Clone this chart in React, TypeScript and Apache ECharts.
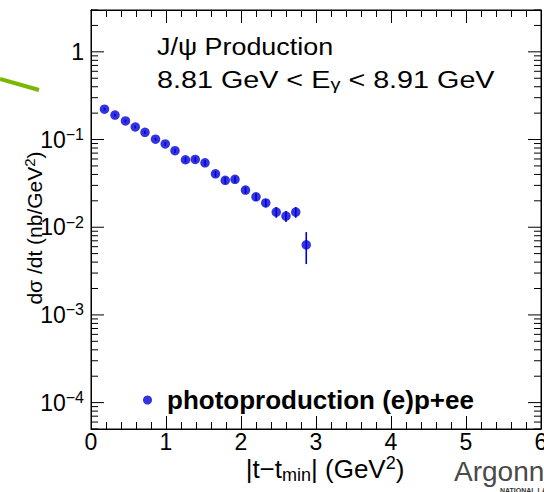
import React, { useEffect, useRef } from "react";
import * as echarts from "echarts";

// |t - tmin| bin centres (GeV^2)
const tValues = [0.18, 0.32, 0.46, 0.59, 0.72, 0.86, 0.99, 1.12, 1.26, 1.39, 1.52, 1.66, 1.79, 1.92, 2.06, 2.2, 2.33, 2.47, 2.6, 2.73, 2.87];
// dσ/dt (nb/GeV^2)
const dsdt = [0.222, 0.19, 0.163, 0.139, 0.121, 0.101, 0.0892, 0.0747, 0.0588, 0.0593, 0.0543, 0.0406, 0.0343, 0.0352, 0.0265, 0.0222, 0.0189, 0.0149, 0.0134, 0.0149, 0.0063];
// statistical errors
const dsdtErr = [0.008, 0.007, 0.006, 0.005, 0.005, 0.004, 0.004, 0.004, 0.004, 0.004, 0.004, 0.003, 0.003, 0.003, 0.0025, 0.0022, 0.002, 0.0021, 0.0019, 0.0021, 0.0025];

const seriesName = "photoproduction (e)p+ee";
const xTickLabels = ["0", "1", "2", "3", "4", "5", "6"];
const yMajorTicks = [1e-4, 1e-3, 1e-2, 1e-1, 1];
const yDecades = [1e-5, 1e-4, 1e-3, 1e-2, 1e-1, 1];
const yMinorMultipliers = [2, 3, 4, 5, 6, 7, 8, 9];

const X_MIN = 0;
const X_MAX = 6;
const Y_MIN = 5e-5;
const Y_MAX = 3;

const FONT = "'Liberation Sans', Arial, Helvetica, sans-serif";
const BLUE = "#0000d8";

export default function App() {
  const ref = useRef<HTMLDivElement>(null);

  useEffect(() => {
    if (!ref.current) return;
    const chart = echarts.init(ref.current, undefined, { renderer: "svg" });

    const minorTicks: number[] = [];
    yDecades.forEach((d) =>
      yMinorMultipliers.forEach((m) => {
        const v = d * m;
        if (v > Y_MIN * 0.999 && v < Y_MAX * 1.001) minorTicks.push(v);
      })
    );
    const tickData = [
      ...yMajorTicks.map((v) => [X_MIN, v, 1]),
      ...minorTicks.map((v) => [X_MIN, v, 0]),
    ];

    const yLabelFormatter = (v: number) => {
      const e = Math.log10(v);
      const r = Math.round(e);
      if (Math.abs(e - r) > 1e-6) return "";
      if (r === 0) return "1";
      return `10{sup|${r < 0 ? "\u2212" : ""}${Math.abs(r)}}`;
    };

    const option: any = {
      animation: false,
      backgroundColor: "#ffffff",
      grid: {
        left: 91,
        top: 10,
        right: 3,
        bottom: 63,
        containLabel: false,
        outerBoundsMode: "none",
        show: true,
        borderColor: "#000",
        borderWidth: 1,
      },
      legend: {
        data: [seriesName],
        left: 138,
        top: 382,
        icon: "circle",
        itemWidth: 9,
        itemHeight: 9,
        selectedMode: false,
        textStyle: {
          fontSize: 26,
          fontWeight: "bold",
          fontFamily: FONT,
          color: "#000",
          padding: [0, 0, 0, 10],
        },
      },
      xAxis: [
        {
          type: "value",
          min: X_MIN,
          max: X_MAX,
          interval: 1,
          position: "bottom",
          axisLine: { show: true, onZero: false, lineStyle: { color: "#000", width: 1 } },
          axisTick: { show: true, inside: true, length: 13, lineStyle: { color: "#000", width: 1 } },
          minorTick: { show: true, splitNumber: 5, length: 7, lineStyle: { color: "#000", width: 1 } },
          splitLine: { show: false },
          minorSplitLine: { show: false },
          axisLabel: {
            margin: 1,
            fontSize: 23,
            fontFamily: FONT,
            color: "#000",
            showMinLabel: true,
            showMaxLabel: true,
            formatter: (v: number) => xTickLabels[Math.round(v)] ?? "",
          },
          name: "|t\u2212t{sub|min}| (GeV{sup|2})",
          nameLocation: "middle",
          nameGap: 25,
          nameMoveOverlap: false,
          nameTextStyle: {
            fontSize: 26,
            fontFamily: FONT,
            color: "#000",
            lineHeight: 30,
            padding: [0, 0, 0, 18],
            rich: {
              sub: { fontSize: 18, fontFamily: FONT, color: "#000", lineHeight: 14, verticalAlign: "bottom" },
              sup: { fontSize: 18, fontFamily: FONT, color: "#000", lineHeight: 12, verticalAlign: "top" },
            },
          },
        },
        {
          type: "value",
          min: X_MIN,
          max: X_MAX,
          interval: 1,
          position: "top",
          axisLine: { show: true, onZero: false, lineStyle: { color: "#000", width: 1 } },
          axisTick: { show: true, inside: true, length: 13, lineStyle: { color: "#000", width: 1 } },
          minorTick: { show: true, splitNumber: 5, length: 7, lineStyle: { color: "#000", width: 1 } },
          splitLine: { show: false },
          axisLabel: { show: false },
        },
      ],
      yAxis: [
        {
          type: "log",
          logBase: 10,
          min: Y_MIN,
          max: Y_MAX,
          position: "left",
          axisLine: { show: true, onZero: false, lineStyle: { color: "#000", width: 1 } },
          axisTick: { show: false },
          splitLine: { show: false },
          axisLabel: {
            margin: 7,
            fontSize: 23,
            fontFamily: FONT,
            color: "#000",
            lineHeight: 26,
            formatter: yLabelFormatter,
            rich: {
              sup: { fontSize: 16, fontFamily: FONT, color: "#000", lineHeight: 12, verticalAlign: "top" },
            },
          },
        },
        {
          type: "log",
          logBase: 10,
          min: Y_MIN,
          max: Y_MAX,
          position: "right",
          axisLine: { show: true, onZero: false, lineStyle: { color: "#000", width: 1 } },
          axisTick: { show: false },
          splitLine: { show: false },
          axisLabel: { show: false },
        },
      ],
      series: [
        {
          type: "custom",
          name: "yticks",
          silent: true,
          clip: false,
          xAxisIndex: 0,
          yAxisIndex: 0,
          encode: { x: 0, y: 1 },
          data: tickData,
          z: 5,
          renderItem: (_p: any, api: any) => {
            const v = api.value(1);
            const major = api.value(2) === 1;
            const len = major ? 13 : 7;
            const pl = api.coord([X_MIN, v]);
            const pr = api.coord([X_MAX, v]);
            return {
              type: "group",
              children: [
                { type: "line", shape: { x1: pl[0], y1: pl[1], x2: pl[0] + len, y2: pl[1] }, style: { stroke: "#000", lineWidth: 1 } },
                { type: "line", shape: { x1: pr[0], y1: pr[1], x2: pr[0] - len, y2: pr[1] }, style: { stroke: "#000", lineWidth: 1 } },
              ],
            };
          },
        },
        {
          type: "custom",
          name: "errors",
          silent: true,
          xAxisIndex: 0,
          yAxisIndex: 0,
          encode: { x: 0, y: [1, 2] },
          data: tValues.map((t, i) => [t, dsdt[i] - dsdtErr[i], dsdt[i] + dsdtErr[i]]),
          z: 6,
          renderItem: (_p: any, api: any) => {
            const lo = api.coord([api.value(0), api.value(1)]);
            const hi = api.coord([api.value(0), api.value(2)]);
            return {
              type: "line",
              shape: { x1: lo[0], y1: lo[1], x2: hi[0], y2: hi[1] },
              style: { stroke: BLUE, lineWidth: 1.6 },
            };
          },
        },
        {
          type: "scatter",
          name: seriesName,
          xAxisIndex: 0,
          yAxisIndex: 0,
          symbol: "circle",
          symbolSize: 9.5,
          itemStyle: { color: BLUE },
          data: tValues.map((t, i) => [t, dsdt[i]]),
          z: 7,
        },
      ],
      graphic: [
        {
          type: "line",
          shape: { x1: 0, y1: 79, x2: 39, y2: 90 },
          style: { stroke: "#7ab800", lineWidth: 4 },
          z: 1,
        },
        {
          type: "text",
          x: 34,
          y: 228,
          rotation: Math.PI / 2,
          style: {
            text: "d\u03c3 /dt (nb/GeV{sup|2})",
            fontSize: 21,
            fontFamily: FONT,
            fill: "#000",
            align: "center",
            verticalAlign: "middle",
            lineHeight: 25,
            rich: {
              sup: { fontSize: 15, fontFamily: FONT, fill: "#000", lineHeight: 11, verticalAlign: "top" },
            },
          },
        },
        {
          type: "text",
          x: 157,
          y: 46.5,
          scaleX: 1.17,
          style: {
            text: "J/\u03c8 Production",
            fontSize: 23,
            fontFamily: FONT,
            fill: "#000",
            align: "left",
            verticalAlign: "middle",
          },
        },
        {
          type: "text",
          x: 157,
          y: 80,
          scaleX: 1.25,
          style: {
            text: "8.81 GeV < E{sub|\u03b3} < 8.91 GeV",
            fontSize: 23,
            fontFamily: FONT,
            fill: "#000",
            align: "left",
            verticalAlign: "middle",
            lineHeight: 26,
            rich: {
              sub: { fontSize: 16, fontFamily: FONT, fill: "#000", lineHeight: 8, verticalAlign: "bottom" },
            },
          },
        },
        {
          type: "text",
          x: 454,
          y: 471,
          style: {
            text: "Argonne",
            fontSize: 28,
            lineHeight: 28,
            fontFamily: FONT,
            fill: "#4a4a4a",
            align: "left",
            verticalAlign: "middle",
          },
        },
        {
          type: "text",
          x: 500,
          y: 490,
          style: {
            text: "NATIONAL LAB",
            fontSize: 7,
            lineHeight: 7,
            fontWeight: "bold",
            fontFamily: FONT,
            fill: "#333",
            align: "left",
            verticalAlign: "middle",
          },
        },
      ],
    };

    chart.setOption(option);
    return () => chart.dispose();
  }, []);

  return (
    <div
      ref={ref}
      style={{ position: "fixed", left: 0, top: 0, width: 544, height: 492, background: "#fff" }}
    />
  );
}
